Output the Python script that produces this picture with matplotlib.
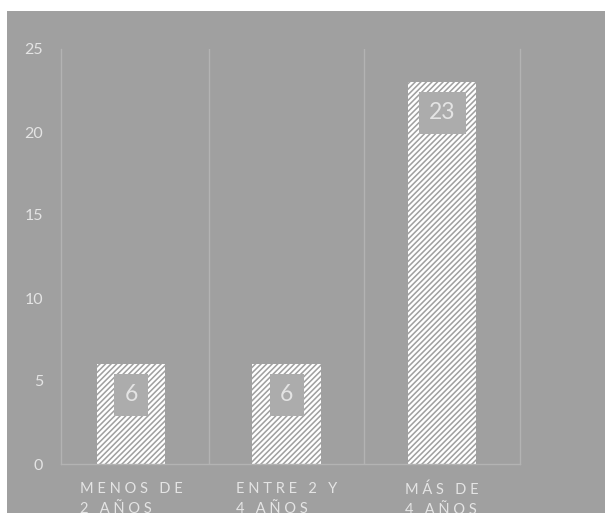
import matplotlib
matplotlib.use("Agg")
import matplotlib.pyplot as plt
from matplotlib.patches import Rectangle

categories = ["MENOS DE\n2 AÑOS", "ENTRE 2 Y\n4 AÑOS", "MÁS DE\n4 AÑOS"]
values = [6, 6, 23]
y_ticks = [0, 5, 10, 15, 20, 25]

BG = "#a0a0a0"
GRID = "#b3b3b3"
TXT = "#e4e4e4"
LABEL_BOX = "#acacac"

plt.rcParams["font.family"] = ["Lato", "DejaVu Sans"]
plt.rcParams["hatch.color"] = "white"
plt.rcParams["hatch.linewidth"] = 1.7


def spaced(label):
    # widen letter spacing for the category labels
    lines = []
    for line in label.split("\n"):
        words = [" ".join(w) for w in line.split(" ")]
        lines.append("   ".join(words))
    return "\n".join(lines)


W, H = 605, 513
fig = plt.figure(figsize=(W / 100, H / 100), dpi=100)
fig.patch.set_facecolor("white")
fig.add_artist(Rectangle((7 / W, 0), 1 - 7 / W, 1 - 11 / H,
                         transform=fig.transFigure, facecolor=BG,
                         edgecolor="none", zorder=0))

ax = fig.add_axes([61 / W, 1 - 464 / H, (520 - 61) / W, (464 - 49) / H])
ax.set_facecolor("none")

x = list(range(len(values)))
ax.bar(x, values, width=0.44, facecolor=BG, edgecolor="white",
       hatch="//////", linewidth=0, zorder=2)

for xi, v in zip(x, values):
    ax.annotate(str(v), (xi, v), xytext=(0, -22), textcoords="offset points",
                ha="center", va="center", fontsize=16.5, color=TXT, zorder=4,
                bbox=dict(boxstyle="square,pad=0.45", facecolor=LABEL_BOX,
                          edgecolor="none"))

ax.set_xlim(-0.45, 2.5)
ax.set_ylim(0, 25)

for xv in [0.5, 1.5]:
    ax.axvline(xv, color=GRID, linewidth=1.0, zorder=1)

for side in ["left", "right", "bottom"]:
    ax.spines[side].set_color(GRID)
    ax.spines[side].set_linewidth(1.0)
ax.spines["top"].set_visible(False)

ax.set_yticks(y_ticks)
ax.set_yticklabels([str(t) for t in y_ticks])
ax.tick_params(axis="y", length=0, pad=13, labelsize=11.5, labelcolor=TXT)

ax.set_xticks(x)
ax.set_xticklabels([spaced(c) for c in categories], multialignment="left",
                   linespacing=1.55)
ax.tick_params(axis="x", length=0, pad=13, labelsize=10.5, labelcolor=TXT)

fig.savefig("out.png", dpi=100, facecolor=fig.get_facecolor())
